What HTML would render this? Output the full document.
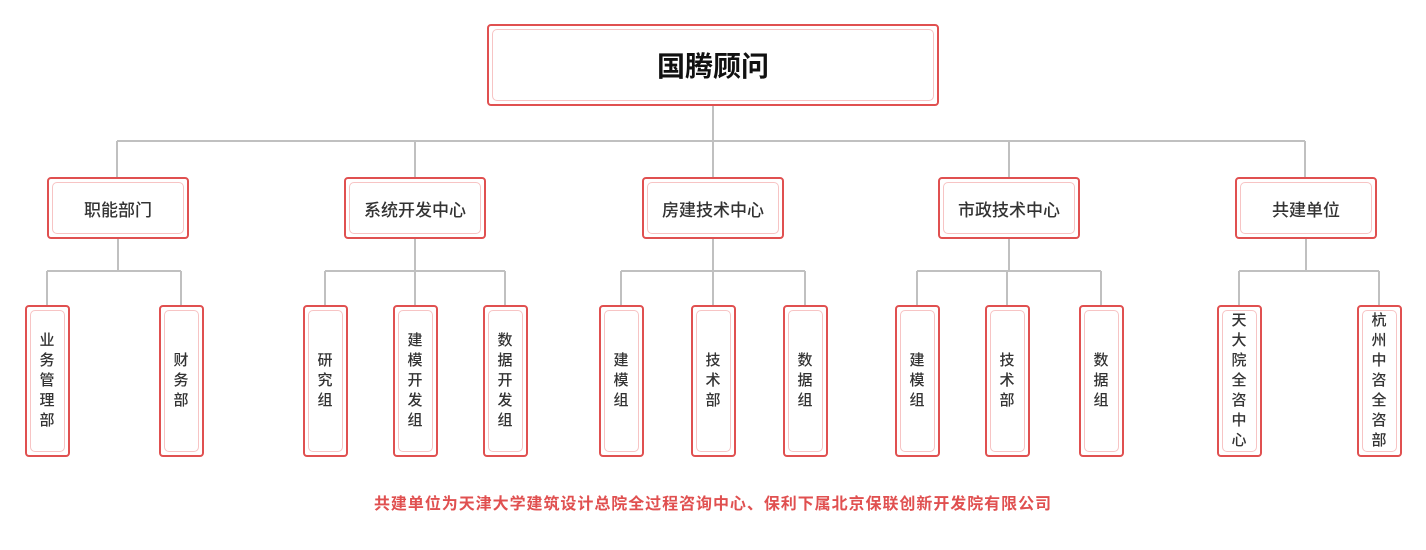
<!DOCTYPE html>
<html><head><meta charset="utf-8"><style>
body{margin:0;width:1426px;height:550px;background:#fff;position:relative;overflow:hidden;font-family:"Liberation Sans","Noto Sans CJK SC",sans-serif;}
.b{position:absolute;box-sizing:border-box;border:2px solid #e05050;border-radius:4px;background:#fff;}
.b::after{content:"";position:absolute;left:3px;top:3px;right:3px;bottom:3px;border:1px solid #f7c4c4;border-radius:5px;}
.t{position:absolute;display:flex;align-items:center;justify-content:center;color:#333;z-index:1;font-weight:500;}
.v{position:absolute;width:44px;height:150px;top:306px;display:flex;align-items:center;justify-content:center;z-index:1;color:#333;font-size:15px;line-height:20px;text-align:center;font-weight:500;}
.v span{width:16px;word-break:break-all;}
</style></head><body>
<svg width="1426" height="550" style="position:absolute;left:0;top:0" fill="none" stroke="#c0c0c0" stroke-width="2">
<path d="M713 105V141M117 141H1305M117 141V178M415 141V178M713 141V178M1009 141V178M1305 141V178"/>
<path d="M118 238V271M47 271H181M47 271V306M181 271V306"/>
<path d="M415 238V271M325 271H505M325 271V306M415 271V306M505 271V306"/>
<path d="M713 238V271M621 271H805M621 271V306M713 271V306M805 271V306"/>
<path d="M1009 238V271M917 271H1101M917 271V306M1007 271V306M1101 271V306"/>
<path d="M1306 238V271M1239 271H1379M1239 271V306M1379 271V306"/>
</svg>
<div class="b" style="left:487px;top:24px;width:452px;height:82px"></div>
<div class="t" style="left:487px;top:24px;width:452px;height:82px;font-size:28px;font-weight:bold;color:#111">国腾顾问</div>

<div class="b" style="left:47px;top:177px;width:142px;height:62px"></div><div class="t" style="left:47px;top:177px;width:142px;height:62px;font-size:17px">职能部门</div>
<div class="b" style="left:344px;top:177px;width:142px;height:62px"></div><div class="t" style="left:344px;top:177px;width:142px;height:62px;font-size:17px">系统开发中心</div>
<div class="b" style="left:642px;top:177px;width:142px;height:62px"></div><div class="t" style="left:642px;top:177px;width:142px;height:62px;font-size:17px">房建技术中心</div>
<div class="b" style="left:938px;top:177px;width:142px;height:62px"></div><div class="t" style="left:938px;top:177px;width:142px;height:62px;font-size:17px">市政技术中心</div>
<div class="b" style="left:1235px;top:177px;width:142px;height:62px"></div><div class="t" style="left:1235px;top:177px;width:142px;height:62px;font-size:17px">共建单位</div>

<div class="b" style="left:25px;top:305px;width:45px;height:152px"></div><div class="v" style="left:25px"><span>业务管理部</span></div>
<div class="b" style="left:159px;top:305px;width:45px;height:152px"></div><div class="v" style="left:159px"><span>财务部</span></div>
<div class="b" style="left:303px;top:305px;width:45px;height:152px"></div><div class="v" style="left:303px"><span>研究组</span></div>
<div class="b" style="left:393px;top:305px;width:45px;height:152px"></div><div class="v" style="left:393px"><span>建模开发组</span></div>
<div class="b" style="left:483px;top:305px;width:45px;height:152px"></div><div class="v" style="left:483px"><span>数据开发组</span></div>
<div class="b" style="left:599px;top:305px;width:45px;height:152px"></div><div class="v" style="left:599px"><span>建模组</span></div>
<div class="b" style="left:691px;top:305px;width:45px;height:152px"></div><div class="v" style="left:691px"><span>技术部</span></div>
<div class="b" style="left:783px;top:305px;width:45px;height:152px"></div><div class="v" style="left:783px"><span>数据组</span></div>
<div class="b" style="left:895px;top:305px;width:45px;height:152px"></div><div class="v" style="left:895px"><span>建模组</span></div>
<div class="b" style="left:985px;top:305px;width:45px;height:152px"></div><div class="v" style="left:985px"><span>技术部</span></div>
<div class="b" style="left:1079px;top:305px;width:45px;height:152px"></div><div class="v" style="left:1079px"><span>数据组</span></div>
<div class="b" style="left:1217px;top:305px;width:45px;height:152px"></div><div class="v" style="left:1217px"><span>天大院全咨中心</span></div>
<div class="b" style="left:1357px;top:305px;width:45px;height:152px"></div><div class="v" style="left:1357px"><span>杭州中咨全咨部</span></div>

<div style="position:absolute;left:0;width:1426px;top:494px;text-align:center;font-size:16px;letter-spacing:0.95px;font-weight:bold;color:#e05050;line-height:22px">共建单位为天津大学建筑设计总院全过程咨询中心、保利下属北京保联创新开发院有限公司</div>
</body></html>
